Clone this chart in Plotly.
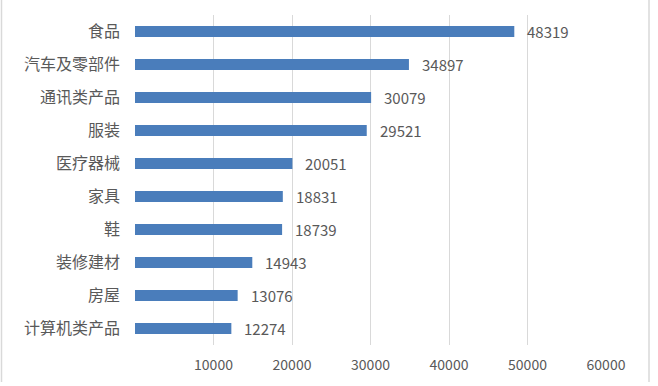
import plotly.graph_objects as go

categories = ["食品", "汽车及零部件", "通讯类产品", "服装", "医疗器械", "家具", "鞋", "装修建材", "房屋", "计算机类产品"]
values = [48319, 34897, 30079, 29521, 20051, 18831, 18739, 14943, 13076, 12274]
tick_vals = [0, 10000, 20000, 30000, 40000, 50000, 60000]
tick_text = ["", "10000", "20000", "30000", "40000", "50000", "60000"]

W, H = 658, 386
L, R, T, B = 135, 52, 15, 41
FONT = "Noto Sans CJK SC, Microsoft YaHei, sans-serif"
TXT = "#595959"

fig = go.Figure()
fig.add_trace(go.Bar(
    x=values, y=categories, orientation="h",
    marker=dict(color="#4A7DBB", line=dict(width=0)),
    hoverinfo="x+y",
))

for v, c in zip(values, categories):
    fig.add_annotation(x=v, y=c, text=str(v), showarrow=False,
                       xanchor="left", xshift=11, yanchor="middle",
                       font=dict(family=FONT, size=15, color=TXT))

pw = W - L - R
ph = H - T - B
def px(x):
    return (x - L) / pw
def py(y):
    return (H - B - y) / ph

for xp in (1.5, 649):
    fig.add_shape(type="line", xref="paper", yref="paper",
                  x0=px(xp), x1=px(xp), y0=py(0), y1=py(382),
                  line=dict(color="#d9d9d9", width=1.5))

fig.update_layout(
    width=W, height=H,
    margin=dict(l=L, r=R, t=T, b=B),
    paper_bgcolor="white", plot_bgcolor="white",
    bargap=0.67,
    showlegend=False,
    font=dict(family=FONT, color=TXT),
    xaxis=dict(range=[0, 60000], tickvals=tick_vals, ticktext=tick_text,
               showgrid=True, gridcolor="#d9d9d9", gridwidth=1,
               zeroline=False, showline=False, ticks="",
               ticklabelstandoff=10,
               tickfont=dict(family=FONT, size=14, color=TXT)),
    yaxis=dict(autorange="reversed", showgrid=False, zeroline=False,
               showline=False, ticks="", ticklabelstandoff=14,
               tickfont=dict(family=FONT, size=16, color=TXT)),
)

fig.write_html("out.html")
